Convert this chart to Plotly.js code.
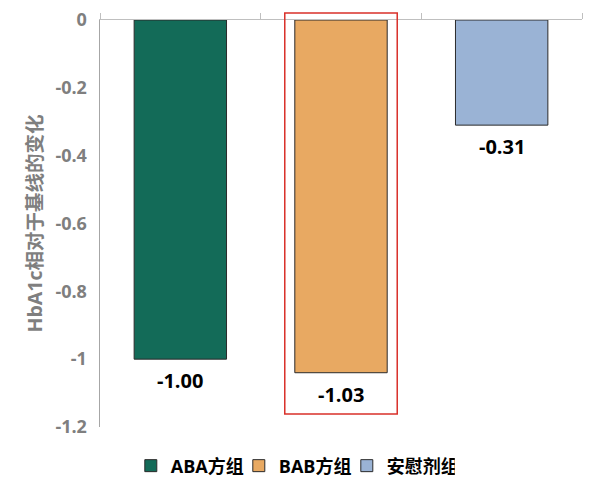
<!DOCTYPE html>
<html>
<head>
<meta charset="utf-8">
<script src="https://cdn.plot.ly/plotly-3.0.1.min.js"></script>
<style>
  html, body { margin: 0; padding: 0; background: #fff; }
  #chart { width: 600px; height: 495px; }
</style>
</head>
<body>
<div id="chart"></div>
<script>
// Groups and the HbA1c change from baseline
const groups = ['ABA方组', 'BAB方组', '安慰剂组'];
const changes = [-1.00, -1.04, -0.31];
const valueLabels = ['-1.00', '-1.03', '-0.31'];
const barColors = ['#136b58', '#e8a962', '#9ab3d5'];
const yTicks = [0, -0.2, -0.4, -0.6, -0.8, -1, -1.2];

const font = 'Open Sans, Noto Sans CJK SC, sans-serif';

// one trace per group so each gets its own legend entry
const data = groups.map((g, i) => ({
    x: [g],
    y: [changes[i]],
    name: g,
    type: 'bar',
    width: 0.575,
    marker: {
        color: barColors[i],
        line: { color: '#2b2b2b', width: 1 },
    },
    hoverinfo: 'skip',
}));

// value labels under each bar
const annotations = groups.map((g, i) => ({
    x: g,
    y: changes[i],
    xref: 'x',
    yref: 'y',
    text: '<b>' + valueLabels[i] + '</b>',
    showarrow: false,
    yanchor: 'top',
    yshift: -6,
    font: { family: font, size: 20, color: '#000' },
}));

const layout = {
    width: 600,
    height: 495,
    paper_bgcolor: '#fff',
    plot_bgcolor: '#fff',
    showlegend: true,
    barmode: 'group',
    margin: { l: 100, r: 18, t: 20, b: 67 },
    xaxis: {
        type: 'category',
        categoryorder: 'array',
        categoryarray: groups,
        side: 'top',
        showticklabels: false,
        showline: true,
        linecolor: '#bfbfbf',
        linewidth: 1.5,
        ticks: 'outside',
        tickson: 'boundaries',
        ticklen: 6,
        tickcolor: '#bfbfbf',
        showgrid: false,
        zeroline: false,
        fixedrange: true,
    },
    yaxis: {
        range: [-1.2, 0],
        tickvals: yTicks,
        ticktext: yTicks.map(v => String(v)),
        ticks: '',
        ticklabelstandoff: 8,
        showline: true,
        linecolor: '#a6a6a6',
        linewidth: 1.5,
        showgrid: false,
        zeroline: false,
        automargin: false,
        tickfont: { family: font, size: 18, color: '#7f7f7f', weight: 'bold' },
        title: {
            text: 'HbA1c相对于基线的变化',
            standoff: 7,
            font: { family: font, size: 19.5, color: '#7f7f7f', weight: 'bold' },
        },
    },
    legend: {
        orientation: 'h',
        x: 0.40,
        xanchor: 'center',
        y: -0.093,
        yanchor: 'middle',
        traceorder: 'normal',
        entrywidth: 63,
        itemwidth: 30,
        font: { family: font, size: 18, color: '#000', weight: 'bold' },
        itemclick: false,
        itemdoubleclick: false,
    },
    annotations: annotations,
    shapes: [{
        // red highlight box around the BAB group
        type: 'rect',
        xref: 'x',
        yref: 'paper',
        x0: 0.65,
        x1: 1.35,
        y0: 0.032,
        y1: 1.017,
        line: { color: '#d9302a', width: 1.5 },
        fillcolor: 'rgba(0,0,0,0)',
        layer: 'above',
    }],
};

Plotly.newPlot('chart', data, layout, { displayModeBar: false, staticPlot: true });
</script>
</body>
</html>
